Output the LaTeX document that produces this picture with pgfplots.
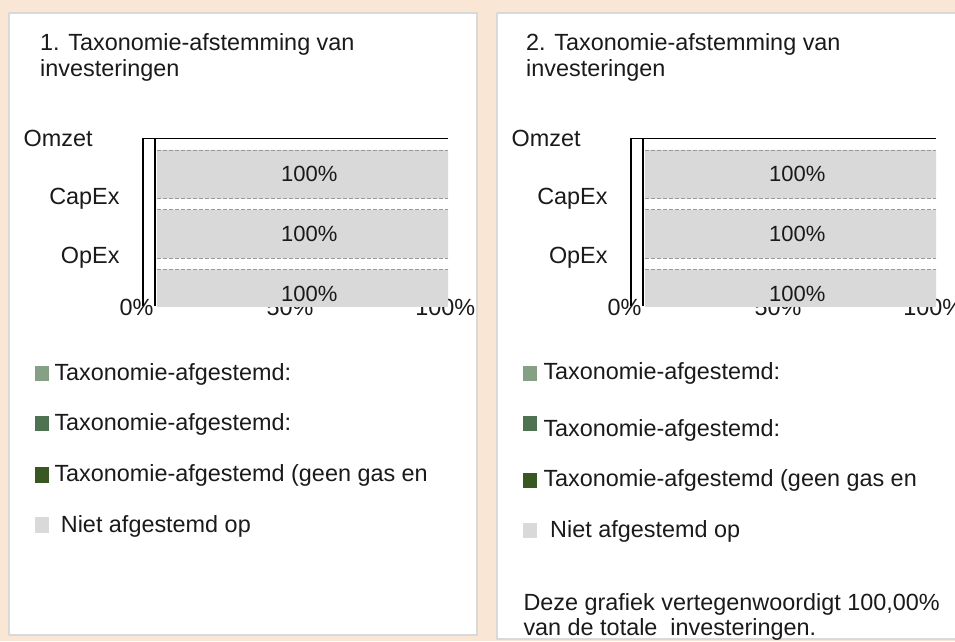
\documentclass[border=0pt]{standalone}
\usepackage{pgfplots}
\pgfplotsset{compat=1.18}
\usepackage{fontspec}
\setmainfont{Liberation Sans}
\definecolor{bgc}{HTML}{FAE6D5}
\definecolor{panelb}{HTML}{D9D9D9}
\definecolor{barg}{HTML}{D9D9D9}
\definecolor{dashg}{HTML}{9A9A9A}
\definecolor{legA}{HTML}{86A085}
\definecolor{legB}{HTML}{4F7352}
\definecolor{legC}{HTML}{385723}
\definecolor{txt}{HTML}{1A1A1A}
\newcommand{\bigfont}{\fontsize{23.4}{26}\selectfont}

\pgfplotstableread{
val cat
100 3
100 2
100 1
}\investtable

\pgfplotsset{panel/.style={
  scale only axis, width=314.28pt, height=167.7pt, anchor=south west,
  xmin=-8, xmax=100, ymin=0.794, ymax=3.603,
  axis x line*=bottom, axis y line*=left, axis line style={draw=none},
  major tick length=0pt, tick style={draw=none},
  xtick={-7.04,45.7,99.1},
  xticklabels={0\%,50\%,100\%},
  xticklabel style={anchor=center, yshift=-1.5pt, font=\bigfont, inner sep=0pt, text=txt},
  ytick={1,2,3}, yticklabels={OpEx,CapEx,Omzet\hspace*{27pt}},
  yticklabel style={anchor=east, inner sep=0pt, xshift=-14pt, yshift=35.5pt, font=\bigfont, text=txt},
  xbar, bar width=48.7pt,
  clip mode=individual,
}}

\newcommand{\panelplot}{%
  \addplot[xbar, fill=barg, draw=none, point meta=x,
    nodes near coords={\pgfmathprintnumber[assume math mode=true]{\pgfplotspointmeta}\%},
    every node near coord/.append style={anchor=center, xshift=-138.8pt, font=\fontsize{22}{24}\selectfont, text=txt}]
    table[x=val, y=cat] {\investtable};
  \draw[dashg, line width=0.8pt, dash pattern=on 4pt off 2pt] (axis cs:0,3.408) -- (axis cs:100,3.408);
  \draw[dashg, line width=0.8pt, dash pattern=on 4pt off 2pt] (axis cs:0,2.592) -- (axis cs:100,2.592);
  \draw[dashg, line width=0.8pt, dash pattern=on 4pt off 2pt] (axis cs:0,2.408) -- (axis cs:100,2.408);
  \draw[dashg, line width=0.8pt, dash pattern=on 4pt off 2pt] (axis cs:0,1.592) -- (axis cs:100,1.592);
  \draw[dashg, line width=0.8pt, dash pattern=on 4pt off 2pt] (axis cs:0,1.408) -- (axis cs:100,1.408);
  \draw[black, line width=1.4pt] (axis cs:-4.81,0.794) -- (axis cs:-4.81,3.603) -- (axis cs:100,3.603);
  \draw[black, line width=1.4pt] (axis cs:-0.69,0.794) -- (axis cs:-0.69,3.603);
}

\begin{document}
\begin{tikzpicture}[x=1pt,y=1pt]
\fill[bgc] (0,0) rectangle (955,641);
\filldraw[fill=white, draw=panelb, line width=1.8pt] (9,6) rectangle (477,628.3);
\filldraw[fill=white, draw=panelb, line width=1.8pt] (497,1.7) rectangle (975,628.3);

% titles
\node[anchor=base west, inner sep=0pt, font=\bigfont, text=txt] at (40,590.3) {1. Taxonomie-afstemming van};
\node[anchor=base west, inner sep=0pt, font=\bigfont, text=txt] at (40,564.3) {investeringen};
\node[anchor=base west, inner sep=0pt, font=\bigfont, text=txt] at (526,590.3) {2. Taxonomie-afstemming van};
\node[anchor=base west, inner sep=0pt, font=\bigfont, text=txt] at (526,564.3) {investeringen};

% charts
\begin{axis}[panel, at={(133.72pt,335pt)}]
\panelplot
\end{axis}
\begin{axis}[panel, at={(621.72pt,335pt)}]
\panelplot
\end{axis}

% legend, left panel
\fill[legA] (34.7,260) rectangle (49.2,275);
\fill[legB] (34.7,210.3) rectangle (49.2,225);
\fill[legC] (34.7,158) rectangle (49.2,174.3);
\fill[barg] (34.7,108) rectangle (49.2,124);
\node[anchor=base west, inner sep=0pt, font=\bigfont, text=txt] at (54.3,261) {Taxonomie-afgestemd:};
\node[anchor=base west, inner sep=0pt, font=\bigfont, text=txt] at (54.3,211) {Taxonomie-afgestemd:};
\node[anchor=base west, inner sep=0pt, font=\bigfont, text=txt] at (54.3,159.3) {Taxonomie-afgestemd (geen gas en};
\node[anchor=base west, inner sep=0pt, font=\bigfont, text=txt] at (60.7,108.7) {Niet afgestemd op};

% legend, right panel
\fill[legA] (522.7,260) rectangle (537,275);
\fill[legB] (522.7,210.3) rectangle (537,225);
\fill[legC] (522.7,153.3) rectangle (537,168.3);
\fill[barg] (522.7,103) rectangle (537,118);
\node[anchor=base west, inner sep=0pt, font=\bigfont, text=txt] at (543.3,261.7) {Taxonomie-afgestemd:};
\node[anchor=base west, inner sep=0pt, font=\bigfont, text=txt] at (543.3,204.3) {Taxonomie-afgestemd:};
\node[anchor=base west, inner sep=0pt, font=\bigfont, text=txt] at (543.3,154.3) {Taxonomie-afgestemd (geen gas en};
\node[anchor=base west, inner sep=0pt, font=\bigfont, text=txt] at (550,103.7) {Niet afgestemd op};

% footnote
\node[anchor=base west, inner sep=0pt, font=\bigfont, text=txt] at (523.3,30.3) {Deze grafiek vertegenwoordigt 100,00\%};
\node[anchor=base west, inner sep=0pt, font=\bigfont, text=txt] at (523.3,6) {van de totale\ \ investeringen.};

\pgfresetboundingbox
\path[use as bounding box] (0,0) rectangle (955,641);
\end{tikzpicture}
\end{document}
